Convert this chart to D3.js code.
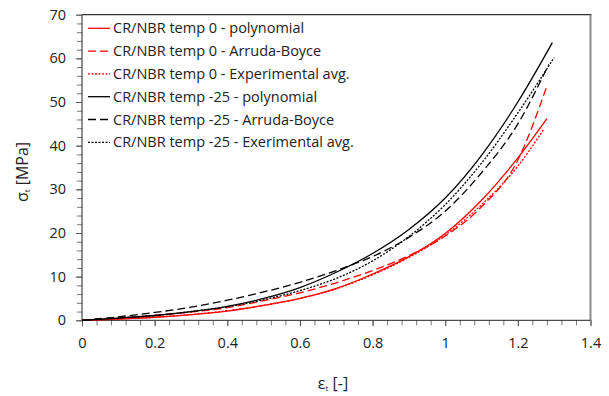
<!DOCTYPE html>
<html>
<head>
<meta charset="utf-8">
<script src="https://cdn.jsdelivr.net/npm/d3@7"></script>
<style>
  body { margin: 0; background: #fff; }
  svg { font-family: "Open Sans", "Liberation Sans", Arial, sans-serif; }
</style>
</head>
<body>
<svg id="chart" width="609" height="396"></svg>
<script>
// strain values for each curve
const strainBase = [0, 0.1, 0.2, 0.3, 0.4, 0.5, 0.6, 0.7, 0.8, 0.9, 1.0, 1.1, 1.2];

const red_poly = [0, 0.3, 0.7, 1.3, 2.1, 3.4, 5.0, 7.3, 10.6, 14.6, 19.9, 27.5, 37.2];
const red_poly_end = [1.28, 46.2];
const red_ab = [0, 0.5, 1.1, 1.9, 2.9, 4.5, 6.3, 8.6, 11.4, 14.8, 19.3, 26.0, 36.7];
const red_ab_end = [1.279, 53.4];
const red_exp = [0, 0.3, 0.7, 1.3, 2.2, 3.4, 5.0, 7.2, 10.4, 14.4, 19.5, 26.5, 35.3];
const red_exp_end = [1.27, 43.6];

const blk_poly = [0, 0.5, 1.1, 2.0, 3.2, 5.0, 7.5, 11.0, 15.3, 20.8, 28.0, 37.8, 50.0];
const blk_poly_end = [1.295, 63.6];
const blk_ab = [0, 0.8, 1.8, 3.0, 4.6, 6.5, 8.7, 11.4, 14.6, 19.0, 25.0, 33.8, 45.0];
const blk_ab_end = [1.285, 58.6];
const blk_exp = [0, 0.5, 1.1, 2.0, 3.1, 4.7, 6.8, 9.6, 13.6, 19.2, 26.5, 36.0, 47.5];
const blk_exp_end = [1.30, 60.2];

const legendLabels = [
  "CR/NBR temp 0 - polynomial",
  "CR/NBR temp 0 - Arruda-Boyce",
  "CR/NBR temp 0 - Experimental avg.",
  "CR/NBR temp -25 - polynomial",
  "CR/NBR temp -25 - Arruda-Boyce",
  "CR/NBR temp -25 - Exerimental avg."
];

const xTicks = [0, 0.2, 0.4, 0.6, 0.8, 1, 1.2, 1.4];
const yTicks = [0, 10, 20, 30, 40, 50, 60, 70];

function makeSeries(vals, end) {
  const pts = strainBase.map((x, i) => ({x: x, y: vals[i]}));
  pts.push({x: end[0], y: end[1]});
  return pts;
}

const series = [
  {pts: makeSeries(red_poly, red_poly_end), color: '#ff0000', dash: null},
  {pts: makeSeries(red_ab, red_ab_end), color: '#ff0000', dash: '8,4'},
  {pts: makeSeries(red_exp, red_exp_end), color: '#ff0000', dash: '2,1.5'},
  {pts: makeSeries(blk_poly, blk_poly_end), color: '#000000', dash: null},
  {pts: makeSeries(blk_ab, blk_ab_end), color: '#000000', dash: '8,4'},
  {pts: makeSeries(blk_exp, blk_exp_end), color: '#000000', dash: '2,1.5'}
];

const svg = d3.select('#chart');
const pLeft = 82, pRight = 590.5, pTop = 14.7, pBottom = 320.3;

const x = d3.scaleLinear().domain([0, 1.4]).range([pLeft, pRight]);
const y = d3.scaleLinear().domain([0, 70]).range([pBottom, pTop]);

// frame
svg.append('line')
  .attr('x1', pLeft).attr('x2', pRight + 1)
  .attr('y1', pTop).attr('y2', pTop)
  .attr('stroke', '#333').attr('stroke-width', 1.2);
svg.append('line')
  .attr('x1', pRight).attr('x2', pRight)
  .attr('y1', pTop).attr('y2', pBottom)
  .attr('stroke', '#8c8c8c').attr('stroke-width', 2);

// minor ticks
const gx = svg.append('g').attr('transform', 'translate(0,' + pBottom + ')');
gx.call(d3.axisBottom(x).tickValues(d3.range(0, 1.4001, 0.04)).tickSize(5).tickFormat(''))
  .call(g => g.select('.domain').remove())
  .call(g => g.selectAll('line').attr('stroke', '#777'));

const gy = svg.append('g').attr('transform', 'translate(' + pLeft + ',0)');
gy.call(d3.axisLeft(y).tickValues(d3.range(0, 70.001, 2)).tickSize(5).tickFormat(''))
  .call(g => g.select('.domain').remove())
  .call(g => g.selectAll('line').attr('stroke', '#777'));

// major ticks and labels
const ax = svg.append('g').attr('transform', 'translate(0,' + pBottom + ')')
  .call(d3.axisBottom(x).tickValues(xTicks).tickSize(6).tickPadding(11).tickFormat(d3.format('')));
ax.select('.domain').attr('stroke', '#222').attr('d', 'M' + pLeft + ',0H' + pRight);
ax.selectAll('line').attr('stroke', '#555');
ax.selectAll('text').attr('font-size', 14.5).attr('fill', '#222').attr('font-family', '"Open Sans", sans-serif');

const ay = svg.append('g').attr('transform', 'translate(' + pLeft + ',0)')
  .call(d3.axisLeft(y).tickValues(yTicks).tickSize(6).tickPadding(10));
ay.select('.domain').attr('stroke', '#222').attr('d', 'M0,' + pBottom + 'V' + pTop);
ay.selectAll('line').attr('stroke', '#555');
ay.selectAll('text').attr('font-size', 14.5).attr('fill', '#222').attr('font-family', '"Open Sans", sans-serif');

// curves
const line = d3.line()
  .x(d => x(d.x))
  .y(d => y(d.y))
  .curve(d3.curveMonotoneX);

series.forEach(s => {
  svg.append('path')
    .datum(s.pts)
    .attr('fill', 'none')
    .attr('stroke', s.color)
    .attr('stroke-width', 1.3)
    .attr('stroke-dasharray', s.dash)
    .attr('d', line);
});

// legend
const legend = svg.append('g');
legendLabels.forEach((lab, i) => {
  const ly = 28.3 + i * 22.8;
  legend.append('line')
    .attr('x1', 88).attr('x2', 110)
    .attr('y1', ly).attr('y2', ly)
    .attr('stroke', series[i].color)
    .attr('stroke-width', 1.3)
    .attr('stroke-dasharray', series[i].dash);
  legend.append('text')
    .attr('x', 113).attr('y', ly + 5)
    .attr('font-size', 14.5)
    .attr('fill', '#222')
    .text(lab);
});

// axis titles
const xt = svg.append('text')
  .attr('x', 333).attr('y', 389)
  .attr('text-anchor', 'middle')
  .attr('font-size', 16)
  .attr('fill', '#222');
xt.append('tspan').text('ε');
xt.append('tspan').attr('font-size', 8).attr('dy', 2).text('t');
xt.append('tspan').attr('dy', -2).text(' [-]');

const yt = svg.append('text')
  .attr('transform', 'translate(28,172) rotate(-90)')
  .attr('text-anchor', 'middle')
  .attr('font-size', 16)
  .attr('fill', '#222');
yt.append('tspan').text('σ');
yt.append('tspan').attr('font-size', 8).attr('dy', 2).text('t');
yt.append('tspan').attr('dy', -2).text(' [MPa]');
</script>
</body>
</html>
